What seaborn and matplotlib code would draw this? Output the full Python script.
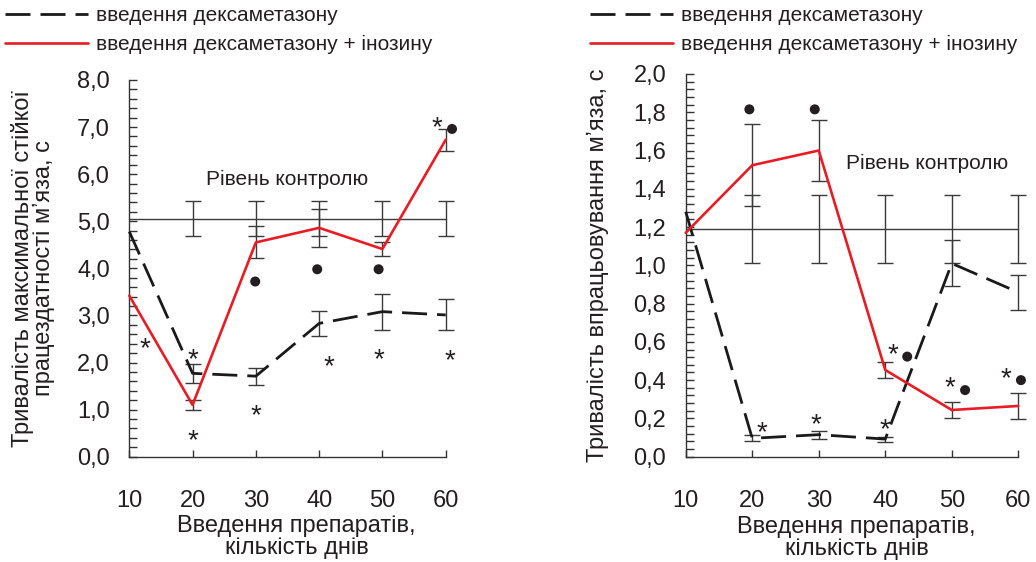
import matplotlib
matplotlib.use("Agg")
import matplotlib.pyplot as plt
import matplotlib.transforms as mtransforms
from matplotlib.ticker import MultipleLocator, FuncFormatter
import numpy as np
import pandas as pd
import seaborn as sns

# ---------------- data ----------------
days = [10, 20, 30, 40, 50, 60]
series_names = ["введення дексаметазону", "введення дексаметазону + інозину"]

# left panel: тривалість максимальної стійкої працездатності, c
dex_left = [4.78, 1.77, 1.71, 2.83, 3.08, 3.01]
dex_left_err = [np.nan, 0.20, 0.18, 0.27, 0.38, 0.33]
ino_left = [3.42, 1.10, 4.55, 4.86, 4.41, 6.73]
ino_left_err = [np.nan, 0.10, 0.34, 0.41, 0.15, 0.23]
control_left = [5.05, 5.05, 5.05, 5.05, 5.05, 5.05]
control_left_err = [np.nan, 0.37, 0.37, 0.37, 0.37, 0.37]

# right panel: тривалість впрацьовування, c
dex_right = [1.28, 0.096, 0.115, 0.092, 1.01, 0.859]
dex_right_err = [np.nan, 0.016, 0.02, 0.013, 0.12, 0.092]
ino_right = [1.17, 1.523, 1.60, 0.453, 0.244, 0.265]
ino_right_err = [np.nan, 0.215, 0.16, 0.043, 0.042, 0.067]
control_right = [1.19, 1.19, 1.19, 1.19, 1.19, 1.19]
control_right_err = [np.nan, 0.18, 0.18, 0.18, 0.18, 0.18]

# significance marks (x, y)
left_stars = [(12.4, 2.46), (20.0, 2.22), (20.0, 0.50), (30.0, 1.03),
              (41.5, 2.07), (49.5, 2.23), (60.7, 2.21), (58.6, 7.15)]
left_dots = [(29.9, 3.72), (39.7, 3.98), (49.4, 3.98), (61.0, 6.96)]
right_stars = [(21.5, 0.165), (29.5, 0.209), (39.9, 0.183), (41.2, 0.571),
               (49.7, 0.40), (58.2, 0.449)]
right_dots = [(19.57, 1.815), (29.4, 1.815), (43.3, 0.523), (52.0, 0.348), (60.4, 0.40)]

control_text = "Рівень контролю"
left_ylabel = "Тривалість максимальної стійкої\nпрацездатності мʼяза, с"
right_ylabel = "Тривалість впрацьовування мʼяза, с"
xlabel = "Введення препаратів,\nкількість днів"

# ---------------- style ----------------
sns.set_theme(style="ticks")
plt.rcParams["font.family"] = ["Liberation Sans", "DejaVu Sans"]
TXT = "#231f20"
RED = "#e81c24"
BLACK = "#1a1a1a"
FS = 15       # legend / annotation text
FS_AX = 17    # tick labels and axis titles

fig = plt.figure(figsize=(10.36, 5.62), dpi=100)
axL = fig.add_axes([0.1248, 0.1874, 0.3054, 0.6703])
axR = fig.add_axes([0.6619, 0.1874, 0.3210, 0.6810])


def draw_panel(ax, dex, dex_err, ino, ino_err, ctrl, ctrl_err, stars, dots,
               ymax, major, minor, label_xy, legend_anchor):
    df = pd.DataFrame({
        "day": days * 2,
        "value": dex + ino,
        "group": [series_names[0]] * len(days) + [series_names[1]] * len(days),
    })
    # control line
    ax.plot(days, ctrl, color="#3a3a3a", lw=1.0, zorder=2, clip_on=False)
    ax.errorbar(days, ctrl, yerr=ctrl_err, fmt="none", ecolor="#3a3a3a",
                elinewidth=1.0, capsize=6, capthick=1.0, zorder=2, clip_on=False)
    # error bars of series
    ax.errorbar(days, dex, yerr=dex_err, fmt="none", ecolor="#3a3a3a",
                elinewidth=1.0, capsize=6, capthick=1.0, zorder=3, clip_on=False)
    ax.errorbar(days, ino, yerr=ino_err, fmt="none", ecolor="#3a3a3a",
                elinewidth=1.0, capsize=6, capthick=1.0, zorder=3, clip_on=False)
    sns.lineplot(data=df, x="day", y="value", hue="group", style="group",
                 size="group",
                 palette={series_names[0]: BLACK, series_names[1]: RED},
                 dashes={series_names[0]: (9, 3.6), series_names[1]: ""},
                 sizes={series_names[0]: 2.0, series_names[1]: 1.9},
                 ax=ax, legend=True, zorder=4)
    for ln in ax.get_lines():
        ln.set_clip_on(False)

    # significance marks
    off = mtransforms.offset_copy(ax.transData, fig=fig, x=0, y=-11, units="points")
    for (sx, sy) in stars:
        ax.text(sx, sy, "*", transform=off, ha="center", va="baseline",
                fontsize=20, color=TXT, zorder=5)
    dx = [d[0] for d in dots]
    dy = [d[1] for d in dots]
    ax.scatter(dx, dy, s=52, color=TXT, edgecolor="none", zorder=5, clip_on=False)

    ax.text(label_xy[0], label_xy[1], control_text, ha="center", va="center",
            fontsize=FS, color=TXT)

    ax.set_xlim(10, 60)
    ax.set_ylim(0, ymax)
    ax.set_xticks(days)
    ax.yaxis.set_major_locator(MultipleLocator(major))
    ax.yaxis.set_minor_locator(MultipleLocator(minor))
    ax.yaxis.set_major_formatter(FuncFormatter(lambda v, p: f"{v:.1f}".replace(".", ",")))
    ax.tick_params(axis="y", which="major", direction="in", length=6, width=1.0,
                   color="#333333", labelsize=FS_AX, labelcolor=TXT, pad=14)
    ax.tick_params(axis="y", which="minor", direction="in", length=5.5, width=1.0,
                   color="#333333")
    ax.tick_params(axis="x", which="major", direction="in", length=5, width=1.0,
                   color="#333333", labelsize=FS_AX, labelcolor=TXT, pad=24)
    for s in ["top", "right"]:
        ax.spines[s].set_visible(False)
    for s in ["left", "bottom"]:
        ax.spines[s].set_color("#333333")
        ax.spines[s].set_linewidth(1.0)
    ax.set_xlabel(xlabel, fontsize=FS_AX, color=TXT, linespacing=1.0)
    ax.patch.set_alpha(0)

    # legend at top of figure
    handles, labels = ax.get_legend_handles_labels()
    keep = [(h, l) for h, l in zip(handles, labels) if l in series_names]
    leg = ax.legend([k[0] for k in keep], [k[1] for k in keep],
                    loc="upper left", bbox_to_anchor=legend_anchor,
                    bbox_transform=fig.transFigure, frameon=False,
                    fontsize=FS, handlelength=4.0, handletextpad=0.35,
                    labelspacing=0.5, borderpad=0, borderaxespad=0)
    for t in leg.get_texts():
        t.set_color(TXT)


draw_panel(axL, dex_left, dex_left_err, ino_left, ino_left_err,
           control_left, control_left_err, left_stars, left_dots,
           8, 1.0, 0.2, (34.9, 5.88), (5 / 1036, 1 - 6 / 562))
draw_panel(axR, dex_right, dex_right_err, ino_right, ino_right_err,
           control_right, control_right_err, right_stars, right_dots,
           2, 0.2, 0.04, (46.3, 1.53), (590 / 1036, 1 - 6 / 562))

axL.set_ylabel(left_ylabel, fontsize=FS_AX, color=TXT, linespacing=0.95)
axL.yaxis.set_label_coords(-0.235, 0.5)
axR.set_ylabel(right_ylabel, fontsize=FS_AX, color=TXT)
axR.yaxis.set_label_coords(-0.232, 0.5)
axL.xaxis.set_label_coords(0.529, -0.156)
axR.xaxis.set_label_coords(0.514, -0.156)
axL.xaxis.label.set_va("top")
axR.xaxis.label.set_va("top")

fig.savefig("out.png", dpi=100)
